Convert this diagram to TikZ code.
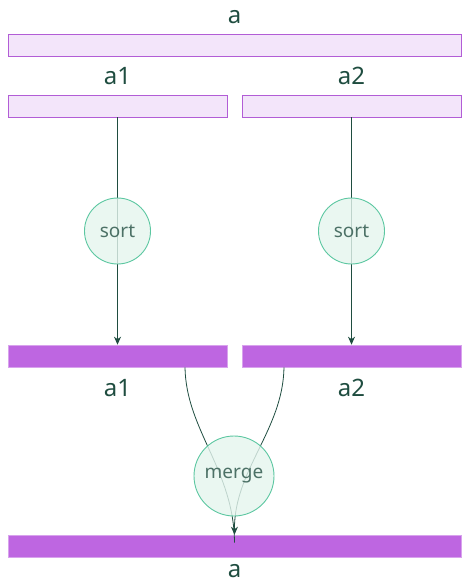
\documentclass[tikz,border=0pt]{standalone}
\usepackage{fontspec}
\setmainfont{Noto Sans}
\usetikzlibrary{arrows.meta}
\definecolor{ink}{HTML}{1F4D40}
\definecolor{lightbar}{HTML}{F3E5FA}
\definecolor{barline}{HTML}{B25DD6}
\definecolor{darkbar}{HTML}{BE66E1}
\definecolor{opfill}{HTML}{E5F5EE}
\definecolor{opline}{HTML}{5CC7A1}
\tikzset{
  inbar/.style={rectangle, draw=barline, line width=0.9pt, fill=lightbar, minimum height=22pt, inner sep=0pt},
  outbar/.style={rectangle, draw=darkbar!60!white, line width=0.6pt, fill=darkbar, minimum height=22pt, inner sep=0pt},
  lbl/.style={text=ink, font=\fontsize{24}{28}\selectfont, inner sep=0pt},
  op/.style={circle, draw=opline, line width=0.9pt, fill=opfill, fill opacity=0.8, text opacity=1, text=ink!80, font=\fontsize{19}{22}\selectfont, inner sep=0pt},
  flow/.style={draw=ink, line width=0.8pt, -{Stealth[length=8pt,width=7pt,inset=2.5pt]}},
}
\begin{document}
\begin{tikzpicture}[x=1pt,y=-1pt]
\useasboundingbox (0,0) rectangle (462,584);
% input arrays
\node[inbar, minimum width=453pt] (top) at (234.5,45) {};
\node[lbl] (ltop) at (234.5,17) {a};
\node[inbar, minimum width=219pt] (a1in) at (117.5,106) {};
\node[inbar, minimum width=219pt] (a2in) at (351.5,106) {};
\node[lbl] (la1in) at (117.5,76) {a1};
\node[lbl] (la2in) at (351.5,76) {a2};
% sorted halves
\node[outbar, minimum width=219pt] (a1out) at (117.5,356) {};
\node[outbar, minimum width=219pt] (a2out) at (351.5,356) {};
\node[lbl] (la1out) at (117.5,388) {a1};
\node[lbl] (la2out) at (351.5,388) {a2};
% merged result
\node[outbar, minimum width=453pt] (res) at (234.5,546) {};
\node[lbl] (lres) at (234.5,571) {a};
% flows
\draw[flow] (a1in.south) -- (a1out.north);
\draw[flow] (a2in.south) -- (a2out.north);
\coordinate (m1) at ([xshift=67.5pt]a1out.south);
\coordinate (m2) at ([xshift=-67.5pt]a2out.south);
\coordinate (mend) at (res.north);
\draw[draw=ink, line width=0.8pt] (m1) .. controls (186,430) and (234,470) .. ([yshift=-8pt]mend);
\draw[flow] (m2) .. controls (283,430) and (234,470) .. (mend);
% operations
\node[op, minimum size=66pt] (sort1) at (117.5,231) {sort};
\node[op, minimum size=66pt] (sort2) at (351.5,231) {sort};
\node[op, minimum size=80pt] (merge) at (234,476) {\raisebox{-3pt}{merge}};
\end{tikzpicture}
\end{document}
